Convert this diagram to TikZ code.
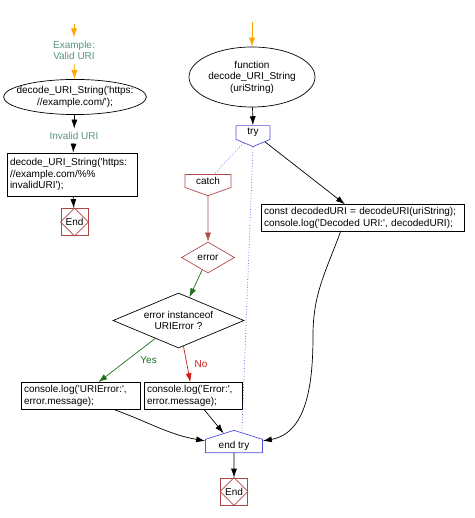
\documentclass[tikz,border=0pt]{standalone}
\usepackage{fontspec}
\setmainfont{Liberation Sans}
\usetikzlibrary{shapes.geometric,shapes.symbols,arrows.meta}
\definecolor{flowteal}{RGB}{84,150,122}
\definecolor{flowred}{RGB}{176,72,72}
\definecolor{flowblue}{RGB}{80,80,220}
\definecolor{floworange}{RGB}{255,165,0}
\definecolor{flowgreen}{RGB}{30,110,30}
\definecolor{flowno}{RGB}{205,30,30}
\newcommand{\sq}{\textquotesingle}

\begin{document}
\begin{tikzpicture}[x=1pt, y=1pt, line width=0.7pt,
    every node/.style={font=\fontsize{10}{11.5}\selectfont},
    link/.style={-{Latex[length=9pt,width=6pt]}, black},
    startlink/.style={link, floworange},
    note/.style={text=flowteal, align=center},
    term/.style={ellipse, draw, align=center, inner sep=0pt},
    proc/.style={rectangle, draw, align=left, inner xsep=3pt, inner ysep=3pt},
    cond/.style={diamond, draw, align=center, inner sep=0pt},
    trybox/.style={signal, draw=flowblue, signal to=south, inner sep=2pt},
    endtrybox/.style={signal, draw=flowblue, signal to=north, inner sep=2pt},
    catchbox/.style={signal, draw=flowred, signal to=south, inner sep=2pt},
    stopbox/.style={rectangle, draw=flowred, minimum size=27pt, inner sep=0pt}
    ]
    \useasboundingbox (0,0) rectangle (474,-518);

    \coordinate (s1) at (74,-24);
    \node[note] (ex) at (74,-50.5) {Example:\\Valid URI};
    \node[term, inner xsep=-8pt, inner ysep=2pt] (valid) at (75,-97) {decode\_URI\_String(\sq https:\\//example.com/\sq);};
    \node[note] (inv) at (74,-136) {Invalid URI};
    \node[proc, text width=124pt, minimum height=43pt] (bad) at (72,-174.5) {decode\_URI\_String(\sq https:\\//example.com/\%\%\\invalidURI\sq);};
    \node[stopbox] (end1) at (74.5,-222) {End};

    \coordinate (s2) at (252,-22);
    \node[term, minimum width=126pt, minimum height=60pt] (fn) at (252,-77) {function\\decode\_URI\_String\\(uriString)};
    \node[trybox, minimum width=34pt, minimum height=17pt, signal pointer angle=134] (try) at (253,-132.5) {try};
    \node[catchbox, minimum width=46pt, minimum height=18pt, signal pointer angle=141] (catch) at (208,-181) {catch};
    \node[proc, text width=197pt] (ok) at (362.5,-218) {const decodedURI = decodeURI(uriString);\\console.log(\sq Decoded URI:\sq, decodedURI);};
    \node[cond, draw=flowred, aspect=1.7, minimum width=53pt, minimum height=31pt] (err) at (208,-257.5) {error};
    \node[cond, aspect=2.4, minimum width=131pt, minimum height=55pt] (isuri) at (178.5,-320.5) {error instanceof\\URIError ?};
    \node[proc, text width=113pt] (logu) at (80.5,-396) {console.log(\sq URIError:\sq,\\error.message);};
    \node[proc, text width=92pt] (loge) at (193,-396) {console.log(\sq Error:\sq,\\error.message);};
    \node[endtrybox, minimum width=57pt, minimum height=16pt, signal pointer angle=145] (endtry) at (234,-446) {end try};
    \node[stopbox] (end2) at (234,-491.5) {End};
    \coordinate (okbend) at (313,-335);

    \foreach \e in {end1,end2}
        \draw[flowred] (\e.north) -- (\e.east) -- (\e.south) -- (\e.west) -- cycle;

    \draw[startlink] (s1) -- (ex);
    \draw[startlink] (ex) -- (valid);
    \draw[link] (valid) -- (inv);
    \draw[link] (inv) -- (bad);
    \draw[link] (bad) -- (end1);

    \draw[startlink] (s2) -- (fn);
    \draw[link] (fn) -- (try);
    \draw[link] (try) -- (ok);
    \draw[flowblue, dotted] (try) -- (catch);
    \draw[flowblue, dotted] (try.south) -- (endtry.60);
    \draw[link, flowred] (catch) -- (err);
    \draw[link, flowgreen] (err) -- (isuri);
    \draw[link, flowgreen] (isuri) -- node[pos=0.5, right=10pt, text=flowgreen] {Yes} (logu);
    \draw[link, flowno] (isuri) -- node[pos=0.5, right=4pt, text=flowno] {No} (loge);
    \draw[link] (logu.-22) to[out=-20, in=170] (endtry.170);
    \draw[link] (loge) -- (endtry);
    \draw[link] (ok.212) to[out=-110, in=90] (okbend) to[out=-90, in=10] (endtry.10);
    \draw[link] (endtry) -- (end2);
\end{tikzpicture}
\end{document}
